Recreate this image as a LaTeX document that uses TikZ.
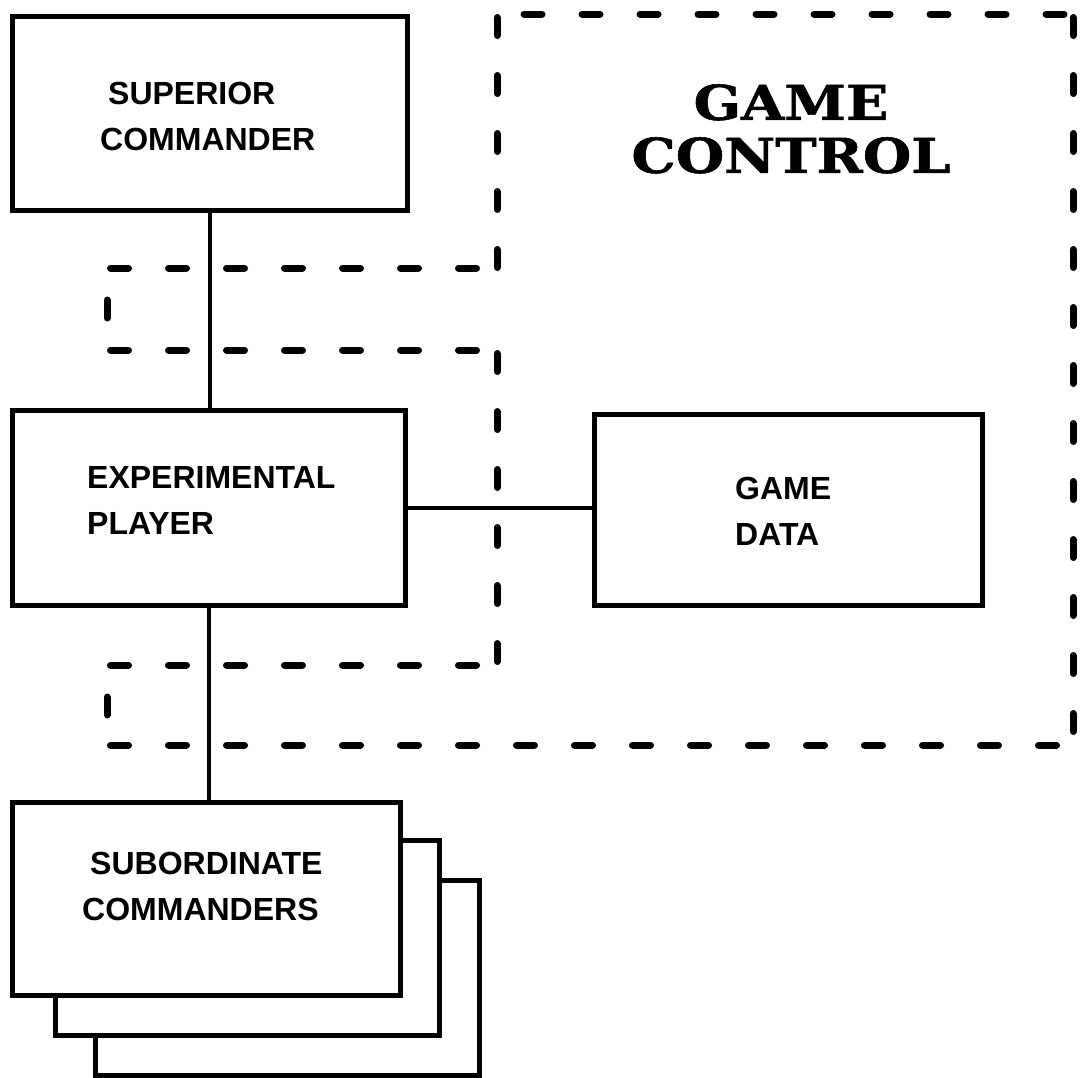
\documentclass[tikz,border=0pt]{standalone}
\usepackage{fontspec}
\setmainfont{Liberation Sans}
\newfontfamily\slabfont{DejaVu Serif}[BoldFont={DejaVu Serif Bold}, BoldFeatures={FakeStretch=1.16, FakeBold=1.2}]
\begin{document}
\begin{tikzpicture}[x=1pt,y=-1pt,
  box/.style={draw, line width=5pt, fill=white, inner sep=0pt, anchor=north west},
  lbl/.style={inner sep=0pt, anchor=north west, align=left,
              font=\bfseries\fontsize{32}{46}\selectfont},
  title/.style={inner sep=0pt, anchor=north, align=center,
                font=\slabfont\bfseries\fontsize{48}{53}\selectfont},
  conn/.style={line width=4.5pt},
  bound/.style={line width=7pt, line cap=round, dash pattern=on 18pt off 40pt},
  boundmid/.style={bound, dash phase=26pt}]

% page frame
\useasboundingbox[fill=white] (0,0) rectangle (1087,1077);

% control boundary, one dashed run per side
\draw[bound] (524,14) -- (1073,14);
\draw[bound] (1073,17.5) -- (1073,745);
\draw[bound] (110.5,745) -- (1073,745);
\draw[boundmid] (107,665) -- (107,745);
\draw[bound] (110.5,665) -- (497,665);
\draw[bound] (497,353.5) -- (497,665);
\draw[bound] (110.5,350) -- (497,350);
\draw[boundmid] (107,268) -- (107,350);
\draw[bound] (110.5,268) -- (497,268);
\draw[bound] (497,17.5) -- (497,268);

% boxes
\node[box, minimum width=395pt, minimum height=194pt] (sup) at (10,14) {};
\node[box, minimum width=393pt, minimum height=195pt] (exp) at (10,408) {};
\node[box, minimum width=388pt, minimum height=191pt] (gd) at (592,412) {};
\node[box, minimum width=384pt, minimum height=195pt] (sub3) at (93,878) {};
\node[box, minimum width=384pt, minimum height=195pt] (sub2) at (53,838) {};
\node[box, minimum width=388pt, minimum height=193pt] (sub1) at (10,800) {};

% labels
\node[lbl] (supT) at (100,82) {\hspace*{8pt}SUPERIOR\\COMMANDER};
\node[lbl] (expT) at (87,466) {EXPERIMENTAL\\PLAYER};
\node[lbl] (gdT) at (735,477) {GAME\\DATA};
\node[lbl] (subT) at (82,852) {\hspace*{8pt}SUBORDINATE\\COMMANDERS};
\node[title] (gc) at (791,84) {GAME\\CONTROL};

% connectors
\draw[conn] (sup.south) -- (sup.south |- exp.north);
\draw[conn] (exp.east) -- (exp.east -| gd.west);
\draw[conn] (exp.south) -- (exp.south |- sub1.north);
\end{tikzpicture}
\end{document}
